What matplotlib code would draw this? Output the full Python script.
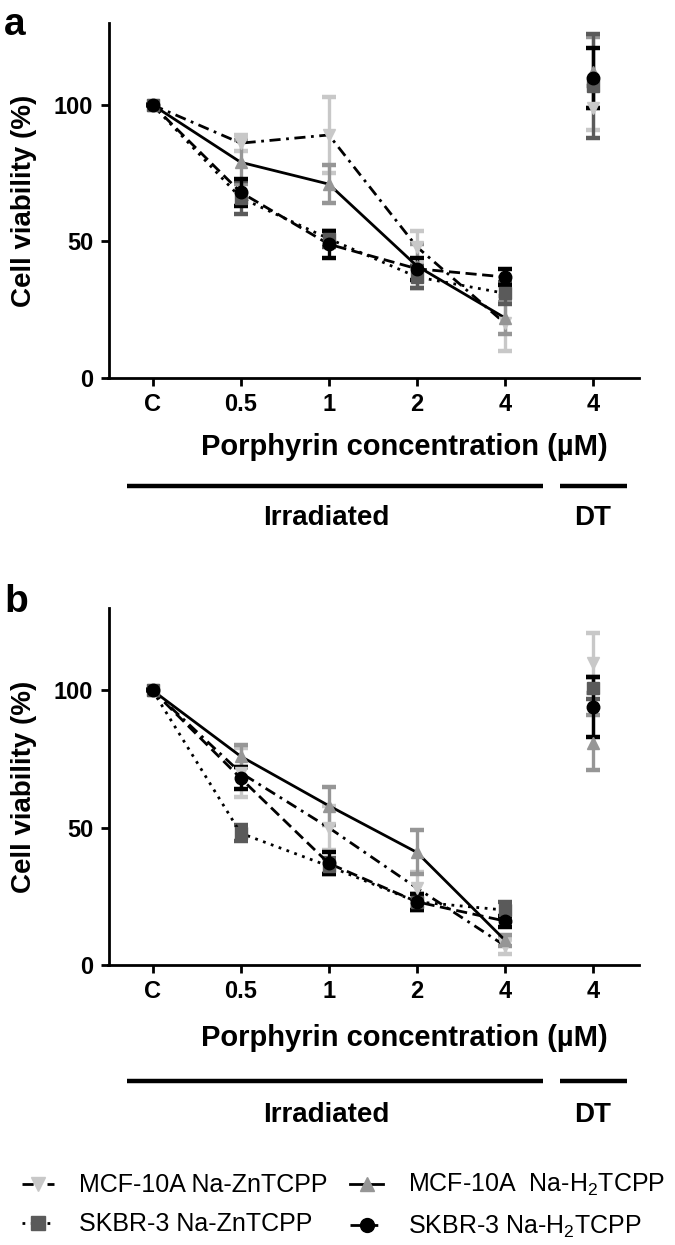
import matplotlib
matplotlib.use("Agg")
import matplotlib.pyplot as plt
from matplotlib.lines import Line2D

plt.rcParams['font.family'] = ['Liberation Sans', 'DejaVu Sans']
plt.rcParams['mathtext.fontset'] = 'custom'
plt.rcParams['mathtext.rm'] = 'Liberation Sans'
plt.rcParams['mathtext.it'] = 'Liberation Sans:italic'
plt.rcParams['mathtext.bf'] = 'Liberation Sans:bold'

# ---------------- data ----------------
tick_labels = ["C", "0.5", "1", "2", "4", "4"]
series_names = ["MCF-10A Na-ZnTCPP", "SKBR-3 Na-ZnTCPP",
                "MCF-10A  Na-H$_2$TCPP", "SKBR-3 Na-H$_2$TCPP"]

# panel a
mcf_zn_a = [100, 86, 89, 48, 20, 99]
mcf_zn_a_err = [0, 3, 14, 6, 10, 8]
mcf_h2_a = [100, 79, 71, 41, 22, 112]
mcf_h2_a_err = [0, 8, 7, 8, 6, 13]
skbr_zn_a = [100, 66, 51, 37, 31, 107]
skbr_zn_a_err = [0, 6, 3, 4, 4, 19]
skbr_h2_a = [100, 68, 49, 40, 37, 110]
skbr_h2_a_err = [0, 5, 5, 4, 3, 11]

# panel b
mcf_zn_b = [100, 70, 50, 28, 7, 110]
mcf_zn_b_err = [0, 9, 8, 6, 3, 11]
mcf_h2_b = [100, 76, 58, 41, 9, 81]
mcf_h2_b_err = [0, 4, 7, 8, 2, 10]
skbr_zn_b = [100, 48, 36, 23, 20, 101]
skbr_zn_b_err = [0, 3, 3, 3, 3, 4]
skbr_h2_b = [100, 68, 37, 23, 16, 94]
skbr_h2_b_err = [0, 4, 4, 3, 2, 11]

# ---------------- styles ----------------
LIGHT, MED, DARK, BLACK = '#c8c8c8', '#969696', '#5a5a5a', '#000000'
styles = [
    dict(color=LIGHT, marker='v', ls=(0, (4, 2, 1, 2))),   # MCF Zn
    dict(color=DARK, marker='s', ls=(0, (1, 2))),          # SKBR Zn
    dict(color=MED, marker='^', ls='-'),                   # MCF H2
    dict(color=BLACK, marker='o', ls=(0, (4, 2))),         # SKBR H2
]
draw_order = [0, 2, 1, 3]

W, H = 675, 1245
fig = plt.figure(figsize=(W / 100, H / 100), dpi=100)

x = list(range(len(tick_labels)))


def panel(rect, values, errs, lab, xl_y, bar_y, txt_y, lab_y):
    ax = fig.add_axes(rect)
    for i in draw_order:
        st = styles[i]
        y, e = values[i], errs[i]
        ax.errorbar(x, y, yerr=e, fmt='none', ecolor=st['color'],
                    elinewidth=2.4, capsize=5, capthick=3.2, zorder=2)
    for i in draw_order:
        st = styles[i]
        y = values[i]
        ax.plot(x[:5], y[:5], color='k', lw=2.0, ls=st['ls'], zorder=3)
    for i in draw_order:
        st = styles[i]
        y = values[i]
        ax.plot(x, y, ls='none', marker=st['marker'], ms=9,
                mfc=st['color'], mec=st['color'], zorder=4)
    ax.set_xlim(-0.5, 5.52)
    ax.set_ylim(0, 130)
    ax.set_yticks([0, 50, 100])
    ax.set_xticks(x)
    ax.set_xticklabels(tick_labels)
    for s in ['top', 'right']:
        ax.spines[s].set_visible(False)
    for s in ['left', 'bottom']:
        ax.spines[s].set_linewidth(2.0)
    ax.tick_params(axis='both', direction='out', length=6, width=2.0,
                   labelsize=17, pad=5)
    for t in ax.get_xticklabels() + ax.get_yticklabels():
        t.set_fontweight('bold')
    ax.set_ylabel('Cell viability (%)', fontsize=20, fontweight='bold')
    ax.yaxis.set_label_coords(-0.135, 0.5)
    ax.text(0.557, xl_y, 'Porphyrin concentration (\u00b5M)', transform=ax.transAxes,
            ha='center', va='center', fontsize=21, fontweight='bold')
    ax.plot([0.035, 0.819], [bar_y, bar_y], transform=ax.transAxes, color='k',
            lw=3.2, clip_on=False, solid_capstyle='butt')
    ax.plot([0.851, 0.977], [bar_y, bar_y], transform=ax.transAxes, color='k',
            lw=3.2, clip_on=False, solid_capstyle='butt')
    ax.text(0.41, txt_y, 'Irradiated', transform=ax.transAxes, ha='center',
            va='center', fontsize=20, fontweight='bold')
    ax.text(0.913, txt_y, 'DT', transform=ax.transAxes, ha='center',
            va='center', fontsize=20, fontweight='bold')
    fig.text(0.006, lab_y, lab, fontsize=28, fontweight='bold', va='baseline')
    return ax


panel([108.5 / W, 1 - 378 / H, 530.5 / W, 355 / H],
      [mcf_zn_a, skbr_zn_a, mcf_h2_a, skbr_h2_a],
      [mcf_zn_a_err, skbr_zn_a_err, mcf_h2_a_err, skbr_h2_a_err],
      'a', -0.194, -0.304, -0.394, 1 - 35 / H)

panel([108.5 / W, 1 - 965 / H, 530.5 / W, 357 / H],
      [mcf_zn_b, skbr_zn_b, mcf_h2_b, skbr_h2_b],
      [mcf_zn_b_err, skbr_zn_b_err, mcf_h2_b_err, skbr_h2_b_err],
      'b', -0.204, -0.325, -0.42, 1 - 612 / H)

handles = []
for st in styles:
    handles.append(Line2D([], [], color='k', ls=st['ls'], lw=2.0,
                          marker=st['marker'], ms=10, mfc=st['color'],
                          mec=st['color']))
fig.legend(handles, series_names, ncol=2, loc='center',
           bbox_to_anchor=(0.509, 1 - 1206 / H), frameon=False, fontsize=18,
           handlelength=1.3, handletextpad=1.0, columnspacing=0.9,
           labelspacing=0.6)

fig.savefig('out.png', dpi=100)
